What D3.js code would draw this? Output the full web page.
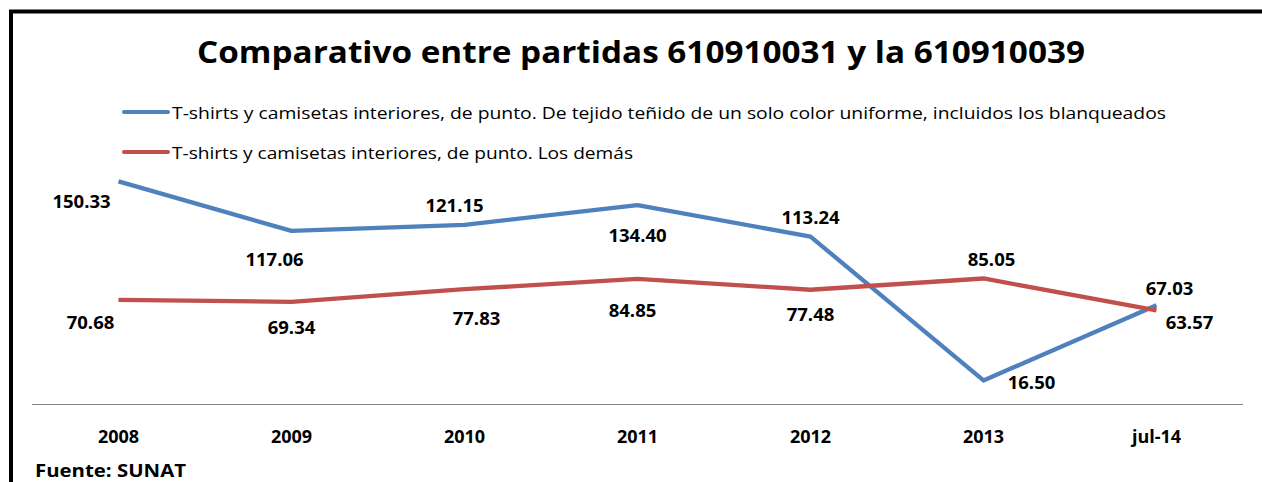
<!DOCTYPE html>
<html><head><meta charset="utf-8">
<script src="https://cdn.jsdelivr.net/npm/d3@7"></script>
<style>body{margin:0;background:#fff}svg{display:block}text{font-family:"Open Sans",sans-serif}</style>
</head><body>
<script>
const categories = ["2008","2009","2010","2011","2012","2013","jul-14"];
const seriesNames = [
  "T-shirts y camisetas  interiores, de punto.  De tejido teñido de un solo color uniforme,  incluidos los blanqueados",
  "T-shirts y camisetas  interiores, de punto. Los demás"
];
const blueValues = [150.33,117.06,121.15,134.40,113.24,16.50,67.03];
const redValues  = [70.68,69.34,77.83,84.85,77.48,85.05,63.57];
const titleText = "Comparativo entre partidas 610910031  y la 610910039";
const sourceText = "Fuente: SUNAT";

// label placement offsets (dx, dy from point to label centre)
const blueLabelOffsets = [[-37,20],[-17,28],[-10,-20],[0,30],[0,-20],[48,2],[13,-17]];
const redLabelOffsets  = [[-28,22],[0,25],[12,29],[-5,31],[0,24],[8,-19],[33,12]];

const W=1262,H=482;
const svg=d3.select("body").append("svg").attr("width",W).attr("height",H);
// frame
svg.append("rect").attr("x",11).attr("y",11.5).attr("width",1260).attr("height",500)
  .attr("fill","none").attr("stroke","#000").attr("stroke-width",4);

svg.append("text").attr("x",197).attr("y",63).attr("font-size",31).attr("font-weight","bold")
  .attr("textLength",888).attr("lengthAdjust","spacingAndGlyphs").text(titleText);

const colors=["#4F81BD","#C0504D"];
const legendY=[112,152], legendW=[994,461];
seriesNames.forEach((n,i)=>{
  svg.append("line").attr("x1",124).attr("x2",168).attr("y1",legendY[i]).attr("y2",legendY[i])
    .attr("stroke",colors[i]).attr("stroke-width",4).attr("stroke-linecap","round");
  svg.append("text").attr("x",172).attr("y",legendY[i]+7).attr("font-size",16.5)
    .attr("textLength",legendW[i]).attr("lengthAdjust","spacingAndGlyphs").text(n);
});

const x=d3.scaleBand().domain(categories).range([32,1243]).padding(0);
const y=d3.scaleLinear().domain([0,160]).range([405,167]);
const cx=c=>x(c)+x.bandwidth()/2;

svg.append("line").attr("x1",32).attr("x2",1243).attr("y1",404.5).attr("y2",404.5)
  .attr("stroke","#868686").attr("stroke-width",1.2);

const xAxis=d3.axisBottom(x).tickSize(0).tickPadding(0);
const gx=svg.append("g").attr("transform","translate(0,404)").call(xAxis);
gx.select(".domain").remove();
gx.selectAll("text").attr("font-family","'Open Sans',sans-serif").attr("font-size",18)
  .attr("font-weight","bold").attr("fill","#000").attr("dy",null).attr("y",39);

const line=d3.line().x((d,i)=>cx(categories[i])).y(d=>y(d));
[blueValues,redValues].forEach((vals,s)=>{
  svg.append("path").datum(vals).attr("d",line).attr("fill","none")
    .attr("stroke",colors[s]).attr("stroke-width",4.3).attr("stroke-linejoin","round");
});
[[blueValues,blueLabelOffsets],[redValues,redLabelOffsets]].forEach(([vals,offs])=>{
  svg.append("g").selectAll("text").data(vals).join("text")
    .attr("x",(d,i)=>cx(categories[i])+offs[i][0])
    .attr("y",(d,i)=>y(d)+offs[i][1]+7)
    .attr("text-anchor","middle").attr("font-size",18.5).attr("font-weight","bold")
    .text(d=>d.toFixed(2));
});

svg.append("text").attr("x",35).attr("y",477).attr("font-size",17).attr("font-weight","bold")
  .attr("textLength",151).attr("lengthAdjust","spacingAndGlyphs").text(sourceText);
</script>
</body></html>
